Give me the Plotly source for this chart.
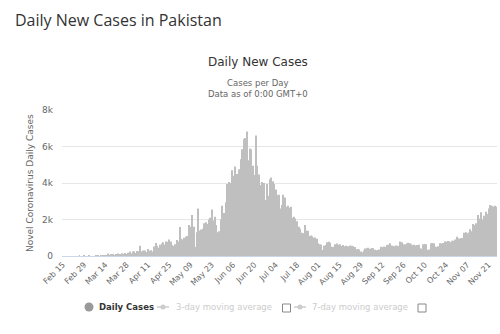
import pandas as pd
import plotly.graph_objects as go

# ---- data ----
start_date = "2020-02-15"
daily_cases = [
    # Feb 15 - Feb 29
    0, 0, 0, 0, 0, 0, 0, 0, 0, 0, 0, 2, 0, 0, 2,
    # Mar 1 - Mar 14
    0, 0, 1, 0, 0, 0, 0, 1, 9, 0, 1, 4, 8, 11,
    # Mar 15 - Mar 28
    22, 134, 50, 62, 105, 40, 87, 142, 96, 103, 149, 92, 161, 102,
    # Mar 29 - Apr 11
    178, 240, 139, 249, 254, 163, 269, 258, 560, 248, 300, 296, 210, 389,
    # Apr 12 - Apr 25
    293, 320, 250, 520, 710, 560, 450, 620, 680, 750, 620, 790, 780, 900,
    # Apr 26 - May 09
    800, 600, 550, 650, 870, 800, 1590, 950, 900, 1000, 1050, 1100, 1700, 1600,
    # May 10 - May 23
    2250, 1600, 500, 1300, 2600, 1400, 1450, 1500, 1800, 1850, 1750, 2000, 2100, 2550,
    # May 24 - Jun 06
    1950, 2150, 1700, 1300, 1350, 2000, 2750, 2350, 2950, 3950, 4050, 4000, 4700, 4400,
    # Jun 07 - Jun 20
    4900, 4500, 4500, 4750, 5300, 5850, 6400, 6470, 6825, 5250, 5890, 5840, 4940, 4440,
    # Jun 21 - Jul 04
    6600, 4950, 4470, 3890, 4050, 4000, 3070, 3950, 3300, 4200, 4300, 4100, 3950, 3650,
    # Jul 05 - Jul 18
    3340, 3350, 2600, 2800, 3350, 3200, 2700, 2750, 2650, 2700, 2100, 2150, 2050, 1900,
    # Jul 19 - Aug 01
    1600, 1500, 1270, 1250, 1700, 1400, 1380, 1100, 1120, 1080, 1000, 1020, 950, 700,
    # Aug 02 - Aug 15
    650, 620, 330, 560, 600, 750, 780, 720, 510, 500, 650, 680, 620, 650,
    # Aug 16 - Aug 29
    550, 600, 540, 560, 550, 520, 580, 560, 540, 500, 370, 380, 350, 250,
    # Aug 30 - Sep 12
    200, 300, 410, 430, 450, 400, 440, 420, 340, 320, 330, 360, 510, 480,
    # Sep 13 - Sep 26
    520, 500, 600, 620, 700, 580, 560, 540, 580, 560, 550, 790, 750, 650,
    # Sep 27 - Oct 10
    640, 680, 720, 700, 650, 600, 620, 580, 600, 610, 420, 400, 650, 660,
    # Oct 11 - Oct 24
    640, 330, 350, 690, 710, 700, 520, 500, 530, 700, 690, 710, 800, 780,
    # Oct 25 - Nov 07
    820, 810, 760, 840, 830, 900, 1060, 970, 950, 990, 980, 1280, 1300, 1250,
    # Nov 08 - Nov 21
    1290, 1460, 1350, 1750, 1700, 1800, 2250, 2050, 2400, 2000, 2200, 2430, 2300, 2600,
    # Nov 22 - Nov 26
    2800, 2750, 2700, 2750, 2700,
]
dates = [d.strftime("%b %d") for d in pd.date_range(start_date, periods=len(daily_cases), freq="D")]
tick_labels = dates[::14]
y_ticks = [0, 2000, 4000, 6000, 8000]
y_tick_text = ["0", "2k", "4k", "6k", "8k"]
legend_names = ["Daily Cases", "3-day moving average", "7-day moving average"]

FONT = "DejaVu Sans"

# plot-area geometry in pixels (used to place the hand-drawn legend)
L, R, T, B = 62, 497, 110, 256
def px(x):
    return (x - L) / (R - L)
def py(y):
    return (B - y) / (B - T)

fig = go.Figure()
fig.add_trace(go.Bar(
    x=dates, y=daily_cases, name=legend_names[0],
    marker=dict(color="#bfbfbf", line=dict(width=0)),
    showlegend=False,
))

LEG_Y = 307
shapes = [
    # Daily Cases: filled circle
    dict(type="circle", xref="paper", yref="paper",
         x0=px(84.5), x1=px(93.5), y0=py(311.5), y1=py(302.5),
         fillcolor="#999999", line=dict(width=0)),
]
annotations = [
    dict(text="Daily New Cases", xref="paper", yref="paper",
         x=px(258), y=py(62), xanchor="center", yanchor="middle",
         showarrow=False, font=dict(family=FONT, size=12, color="#333333")),
    dict(text="Cases per Day<br>Data as of 0:00 GMT+0", xref="paper", yref="paper",
         x=px(258), y=py(88), xanchor="center", yanchor="middle",
         showarrow=False, align="center",
         font=dict(family=FONT, size=8.5, color="#666666")),
    dict(text="Novel Coronavirus Daily Cases", xref="paper", yref="paper",
         x=px(30), y=py(183), xanchor="center", yanchor="middle", textangle=-90,
         showarrow=False, font=dict(family=FONT, size=9, color="#666666")),
    dict(text="<b>" + legend_names[0] + "</b>", xref="paper", yref="paper",
         x=px(97), y=py(LEG_Y), xanchor="left", yanchor="middle",
         showarrow=False, font=dict(family=FONT, size=8.5, color="#333333")),
]
# the two hidden moving-average entries: line+dot symbol, grey text, checkbox
for name, sx, tx, cx in [(legend_names[1], 163, 174, 286.5), (legend_names[2], 300, 310, 422)]:
    shapes.append(dict(type="line", xref="paper", yref="paper",
                       x0=px(sx - 6), x1=px(sx + 6), y0=py(LEG_Y), y1=py(LEG_Y),
                       line=dict(color="#cccccc", width=1.5)))
    shapes.append(dict(type="circle", xref="paper", yref="paper",
                       x0=px(sx - 2.5), x1=px(sx + 2.5), y0=py(LEG_Y + 2.5), y1=py(LEG_Y - 2.5),
                       fillcolor="#cccccc", line=dict(width=0)))
    shapes.append(dict(type="rect", xref="paper", yref="paper",
                       x0=px(cx - 4), x1=px(cx + 4), y0=py(LEG_Y + 5), y1=py(LEG_Y - 3),
                       fillcolor="white", line=dict(color="#888888", width=1)))
    annotations.append(dict(text=name, xref="paper", yref="paper",
                            x=px(tx), y=py(LEG_Y), xanchor="left", yanchor="middle",
                            showarrow=False, font=dict(family=FONT, size=8.5, color="#cccccc")))

fig.update_layout(
    width=500, height=334,
    margin=dict(l=L, r=500 - R, t=T, b=334 - B),
    paper_bgcolor="white", plot_bgcolor="white",
    bargap=0.35,
    font=dict(family=FONT, color="#666666"),
    title=dict(
        text="Daily New Cases in Pakistan",
        x=15 / 500, xanchor="left", xref="container",
        y=1 - 20 / 334, yanchor="middle", yref="container",
        font=dict(family="Open Sans", size=16, color="#333333"),
    ),
    showlegend=False,
    xaxis=dict(
        type="category", range=[-0.5, len(daily_cases) - 0.5],
        tickmode="array", tickvals=tick_labels, ticktext=tick_labels,
        tickangle=-45, tickfont=dict(size=8, color="#666666"),
        showgrid=False, showline=True, linecolor="#ccd6eb", linewidth=1,
        ticks="", fixedrange=True,
    ),
    yaxis=dict(
        range=[0, 8000], tickmode="array", tickvals=y_ticks, ticktext=y_tick_text,
        tickfont=dict(size=9, color="#666666"),
        showgrid=True, gridcolor="#e6e6e6", gridwidth=1, zeroline=False,
        ticks="", ticklabelstandoff=8,
    ),
    shapes=shapes,
    annotations=annotations,
)

fig.write_html("out.html")
